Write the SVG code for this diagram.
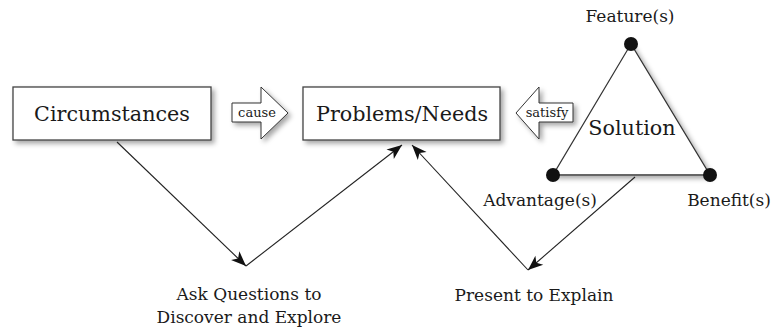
<svg xmlns="http://www.w3.org/2000/svg" width="771" height="329" viewBox="0 0 771 329">
<defs>
<style>
text{font-family:"DejaVu Serif","Liberation Serif",serif;fill:#1a1a1a;}
.box{fill:#fff;stroke:#444;stroke-width:1.3;filter:url(#sh);}
.conn{fill:none;stroke:#222;stroke-width:1.1;marker-end:url(#ah);}
.big{font-size:20.7px;text-anchor:middle;}
.lbl{font-size:17px;text-anchor:middle;}
.small{font-size:13px;text-anchor:middle;}
.barrow{fill:#fff;stroke:#333;stroke-width:1;filter:url(#sh);}
</style>
<filter id="sh" x="-20%" y="-20%" width="140%" height="150%">
<feDropShadow dx="3" dy="3" stdDeviation="2.5" flood-color="#000" flood-opacity="0.35"/>
</filter>
<marker id="ah" markerUnits="userSpaceOnUse" markerWidth="20" markerHeight="14" viewBox="-16 -7 18 14" refX="0" refY="0" orient="auto">
<path d="M0,0 L-15,-6 L-11,0 L-15,6 Z" fill="#111"/>
</marker>
</defs>
<g id="circumstances">
<rect class="box" x="13" y="87" width="198" height="53"/>
<text class="big" x="112" y="121">Circumstances</text>
</g>
<g id="cause">
<path class="barrow" d="M232,103 L261,103 L261,87 L288,113 L261,139 L261,122 L232,122 Z"/>
<text class="small" x="257" y="117">cause</text>
</g>
<g id="problems">
<rect class="box" x="303" y="87" width="197" height="53"/>
<text class="big" x="402" y="121">Problems/Needs</text>
</g>
<g id="satisfy">
<path class="barrow" d="M573,103 L539,103 L539,87 L516,113 L539,139 L539,122 L573,122 Z"/>
<text class="small" x="547" y="117">satisfy</text>
</g>
<g id="solution">
<path d="M631,44 L553,175 L710,175 Z" fill="#fff" stroke="#333" stroke-width="1.2" filter="url(#sh)"/>
<line x1="553" y1="175" x2="710" y2="175" stroke="#666" stroke-width="2"/>
<circle cx="631" cy="44" r="7" fill="#111"/>
<circle cx="553" cy="175" r="7" fill="#111"/>
<circle cx="710" cy="175" r="7" fill="#111"/>
<text class="big" x="632" y="135">Solution</text>
<text class="lbl" x="630" y="22">Feature(s)</text>
<text class="lbl" x="540" y="206">Advantage(s)</text>
<text class="lbl" x="729" y="206">Benefit(s)</text>
</g>
<g id="ask">
<text class="lbl" x="249" y="300">Ask Questions to</text>
<text class="lbl" x="249" y="323">Discover and Explore</text>
</g>
<g id="present">
<text class="lbl" x="534" y="301">Present to Explain</text>
</g>
<g id="connectors">
<line class="conn" x1="117" y1="142" x2="246" y2="266"/>
<line class="conn" x1="246" y1="266" x2="402" y2="145"/>
<line class="conn" x1="635" y1="177" x2="528" y2="270"/>
<line class="conn" x1="528" y1="270" x2="412" y2="145"/>
</g>
</svg>
